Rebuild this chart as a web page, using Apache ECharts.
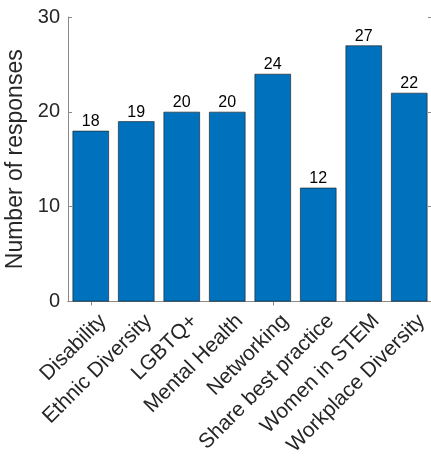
<!DOCTYPE html>
<html>
<head>
<meta charset="utf-8">
<script src="https://cdn.jsdelivr.net/npm/echarts@6/dist/echarts.min.js"></script>
<style>
  html, body { margin: 0; padding: 0; background: #fff; }
  #chart { width: 431px; height: 461px; }
</style>
</head>
<body>
<div id="chart"></div>
<script>
// Survey topics and how many responses each received
const categories = ['Disability', 'Ethnic Diversity', 'LGBTQ+', 'Mental Health',
  'Networking', 'Share best practice', 'Women in STEM', 'Workplace Diversity'];
const responses = [18, 19, 20, 20, 24, 12, 27, 22];
const yTicks = [0, 10, 20, 30];

const FONT = 'Liberation Sans, Arial, Helvetica, sans-serif';
const AXIS_COLOR = '#8a8a8a';
const TEXT_COLOR = '#262626';

const chart = echarts.init(document.getElementById('chart'), null, { renderer: 'canvas' });

// box-style frame: ticks point inward on all four sides
const frameTick = { show: true, inside: true, length: 4, lineStyle: { color: AXIS_COLOR } };
const frameLine = { show: true, lineStyle: { color: AXIS_COLOR, width: 1 } };

chart.setOption({
  animation: false,
  backgroundColor: '#ffffff',
  textStyle: { fontFamily: FONT },
  grid: {
    left: 68, top: 17, width: 364, height: 284.5,
    containLabel: false, outerBoundsMode: 'none'
  },
  xAxis: [
    {
      type: 'category',
      data: categories,
      position: 'bottom',
      axisLine: frameLine,
      axisTick: Object.assign({ alignWithLabel: true }, frameTick),
      axisLabel: {
        interval: 0, rotate: 45, fontSize: 21, color: TEXT_COLOR, margin: 4,
        align: 'right', verticalAlign: 'top', padding: [7, 0, 0, 0], fontFamily: FONT
      },
      splitLine: { show: false }
    },
    {
      type: 'category',
      data: categories,
      position: 'top',
      axisLine: frameLine,
      axisTick: Object.assign({ alignWithLabel: true }, frameTick),
      axisLabel: { show: false },
      splitLine: { show: false }
    }
  ],
  yAxis: [
    {
      type: 'value',
      min: yTicks[0],
      max: yTicks[yTicks.length - 1],
      interval: 10,
      position: 'left',
      name: 'Number of responses',
      nameLocation: 'middle',
      nameRotate: 90,
      nameGap: 32,
      nameTextStyle: { fontSize: 23, color: TEXT_COLOR, fontFamily: FONT },
      axisLine: frameLine,
      axisTick: frameTick,
      axisLabel: { fontSize: 20, color: TEXT_COLOR, margin: 8, fontFamily: FONT },
      splitLine: { show: false }
    },
    {
      type: 'value',
      min: yTicks[0],
      max: yTicks[yTicks.length - 1],
      interval: 10,
      position: 'right',
      axisLine: frameLine,
      axisTick: frameTick,
      axisLabel: { show: false },
      splitLine: { show: false }
    }
  ],
  series: [
    {
      type: 'bar',
      data: responses,
      xAxisIndex: 0,
      yAxisIndex: 0,
      barWidth: '80%',
      itemStyle: { color: '#0072BD', borderColor: '#1a1a1a', borderWidth: 0.6 },
      label: { show: true, position: 'top', distance: 1, fontSize: 16, color: '#000', fontFamily: FONT }
    }
  ]
});
</script>
</body>
</html>
